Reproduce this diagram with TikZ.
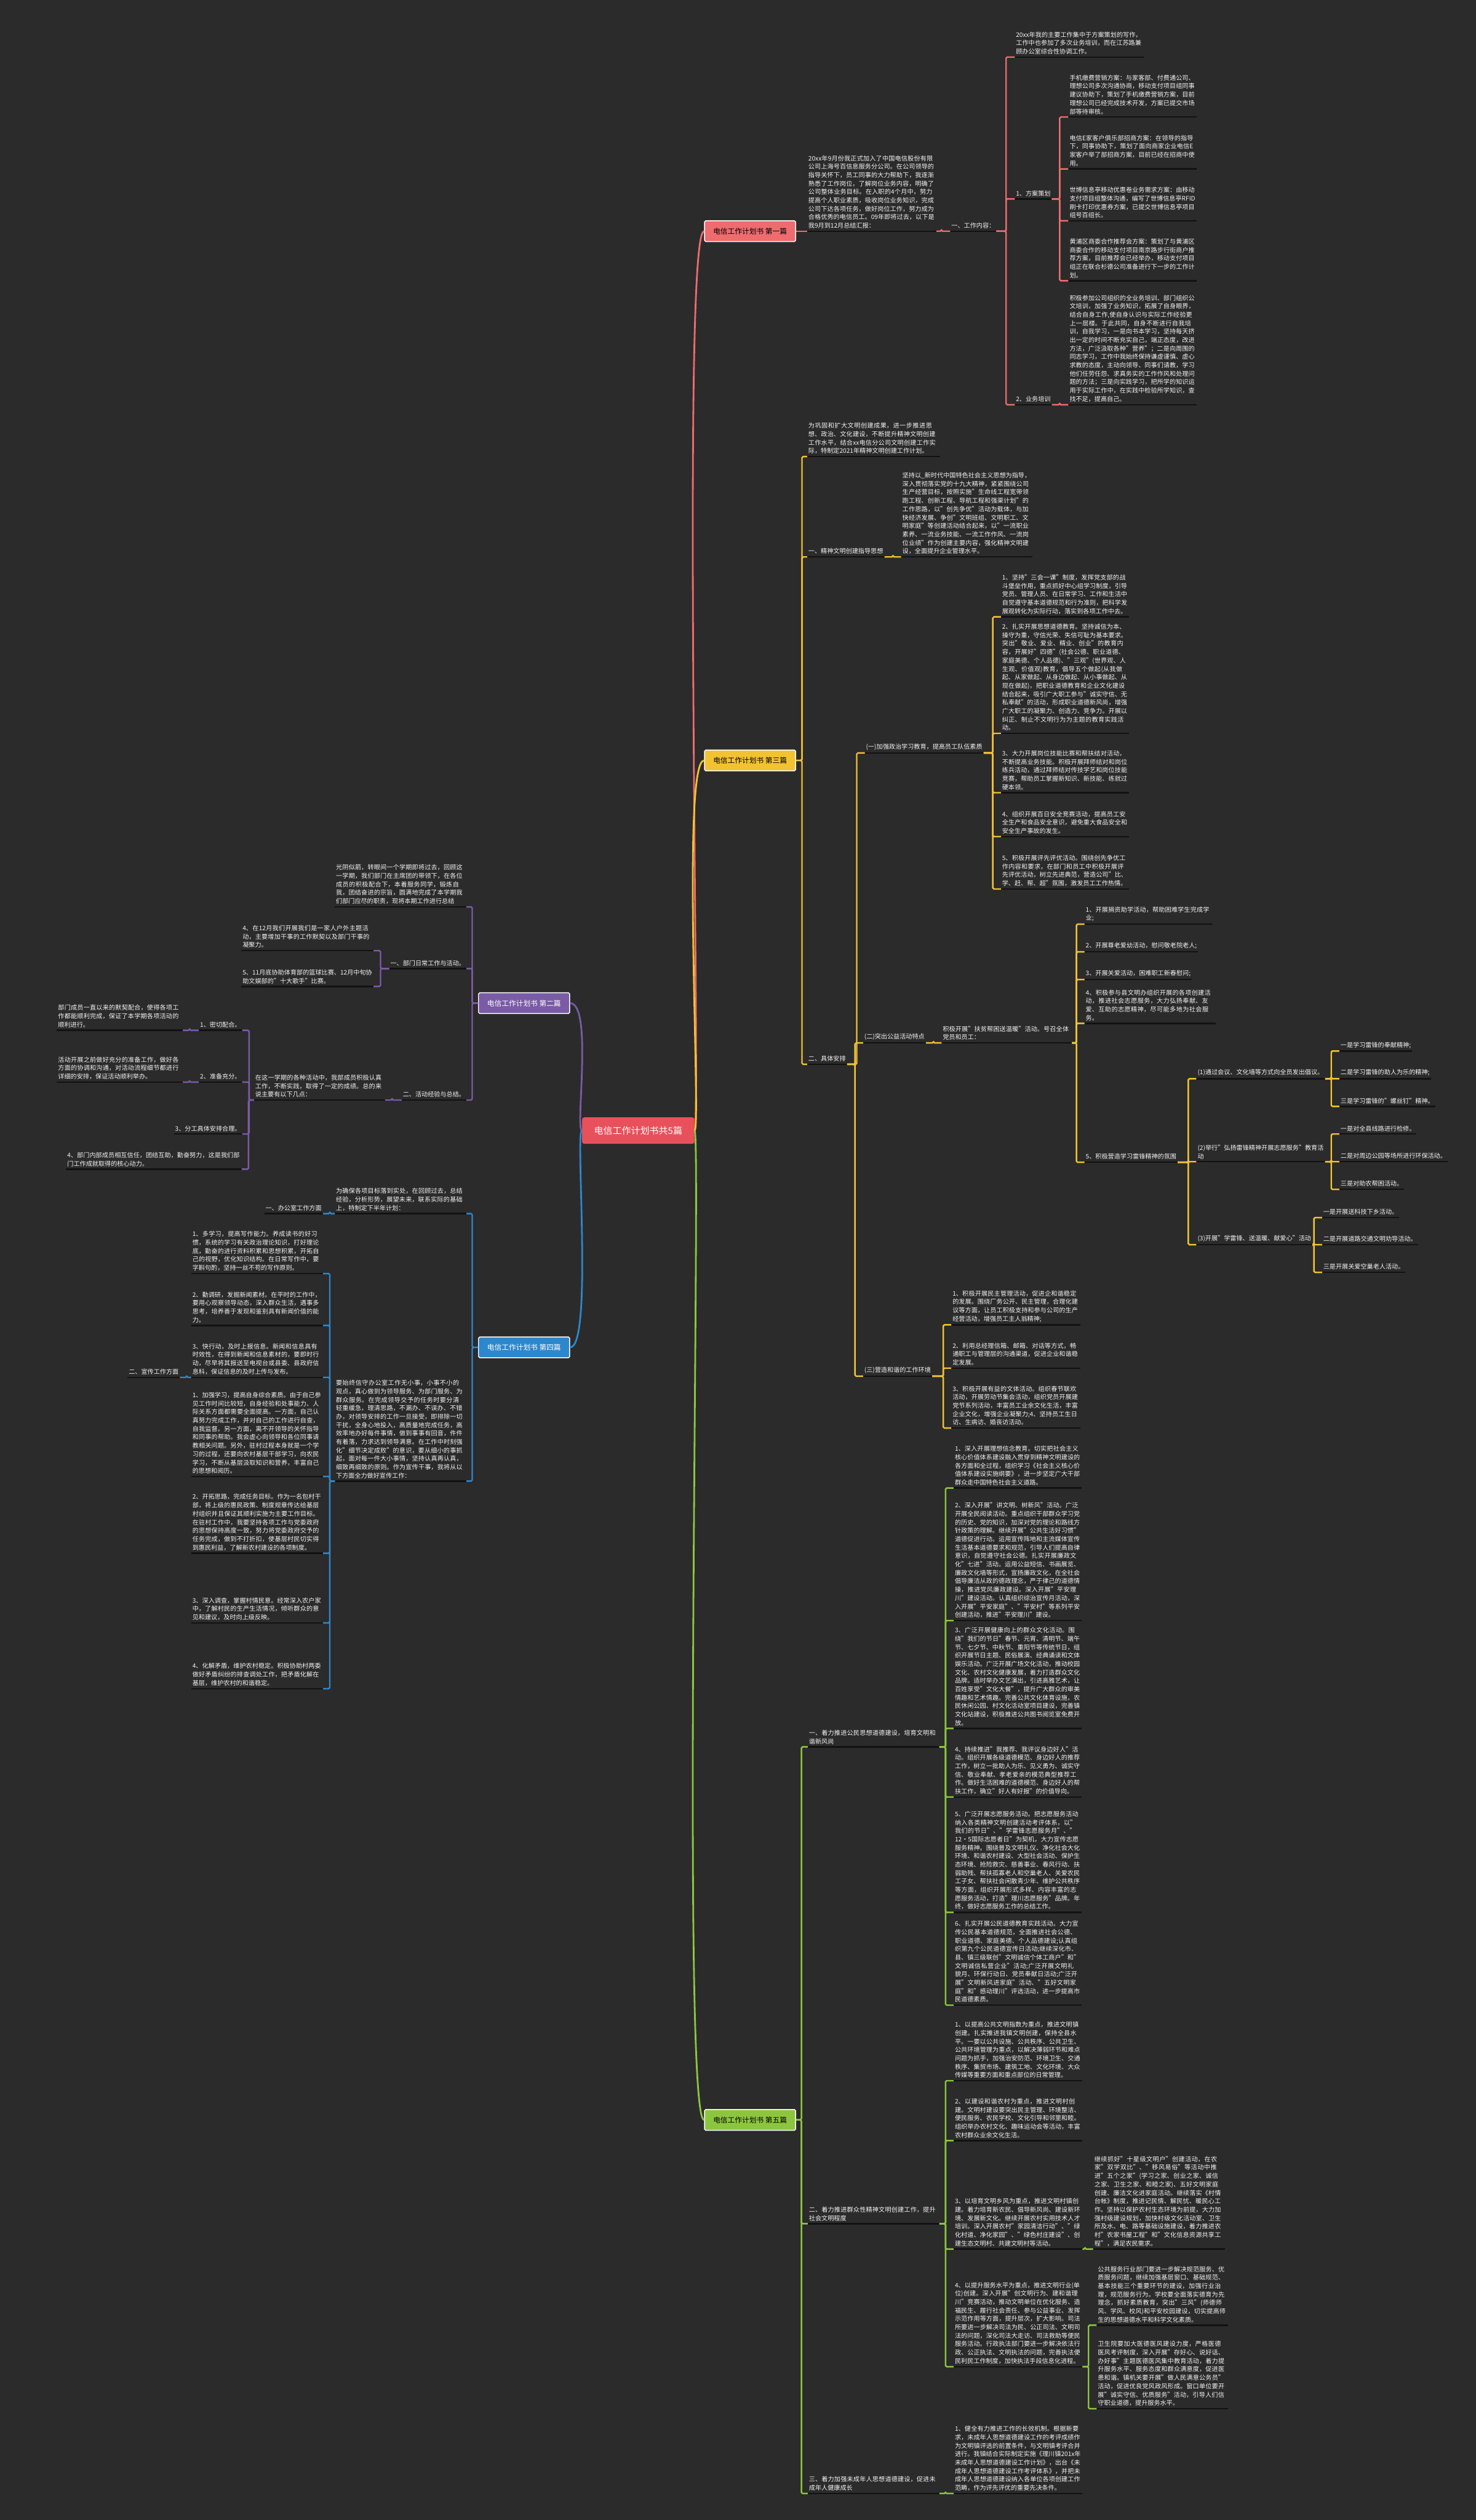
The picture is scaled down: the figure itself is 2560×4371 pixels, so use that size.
\documentclass[tikz,border=0pt]{standalone}
\usepackage{fontspec}
\setmainfont{Noto Sans CJK SC}
\XeTeXlinebreaklocale "zh"
\XeTeXlinebreakskip=0pt plus 1pt
\usetikzlibrary{calc}
\definecolor{Bg}{HTML}{2B2B2B}
\definecolor{Rule}{HTML}{121212}
\definecolor{Ink}{HTML}{F4F4F4}
\definecolor{Root}{HTML}{E8505B}
\definecolor{RedC}{HTML}{EE6B6E}
\definecolor{YelC}{HTML}{F2C230}
\definecolor{PurC}{HTML}{7A5BA6}
\definecolor{BluC}{HTML}{2D87CC}
\definecolor{GrnC}{HTML}{8CC63F}
\tikzset{
  root/.style={fill=Root,rounded corners=4pt,text=white,font=\fontsize{16}{19}\selectfont,minimum width=195pt,minimum height=46pt,inner sep=3pt},
  topic/.style={fill=#1,draw=white,line width=1.5pt,rounded corners=2pt,font=\fontsize{12.5}{15}\selectfont,minimum width=158pt,minimum height=36pt,inner sep=2pt},
  leaf/.style={anchor=south west,text=Ink,align=left,inner xsep=2pt,inner ysep=4.5pt,font=\fontsize{10.8}{14.6}\selectfont,text width=#1pt},
  leafl/.style={leaf=#1,anchor=south east},
  tag/.style={anchor=south west,text=Ink,inner xsep=2pt,inner ysep=4.5pt,font=\fontsize{10.8}{14.6}\selectfont},
  tagl/.style={tag,anchor=south east},
  link/.style={draw=#1,line width=2.6pt,rounded corners=2pt},
  uline/.style={draw=Rule,line width=2.6pt},
  curve/.style={draw=#1,line width=3pt}
}
\begin{document}
\begin{tikzpicture}[x=1pt,y=-1pt]
\useasboundingbox[fill=Bg] (0,0) rectangle (2560,4371);

% branches from the root
\node[root] (root) at (1107,1961) {电信工作计划书共5篇};
\node[topic=RedC,text=black] (b1) at (1301,401) {电信工作计划书 第一篇};
\node[topic=YelC,text=black] (b3) at (1301,1319) {电信工作计划书 第三篇};
\node[topic=GrnC,text=black] (b5) at (1301,3677) {电信工作计划书 第五篇};
\node[topic=PurC,text=white] (b2) at (909,1740) {电信工作计划书 第二篇};
\node[topic=BluC,text=white] (b4) at (909,2337) {电信工作计划书 第四篇};

% first
\node[leaf=220] (b1i) at (1400,401) {20xx年9月份我正式加入了中国电信股份有限公司上海号百信息服务分公司。在公司领导的指导关怀下，员工同事的大力帮助下，我逐渐熟悉了工作岗位，了解岗位业务内容，明确了公司整体业务目标。在入职的4个月中，努力提高个人职业素质，吸收岗位业务知识，完成公司下达各项任务，做好岗位工作，努力成为合格优秀的电信员工。09年即将过去，以下是我9月到12月总结汇报：};
\node[tag] (b1w) at (1648,401) {一、工作内容：};
\node[leaf=219] (b1a) at (1760,99) {20xx年我的主要工作集中于方案策划的写作，工作中也参加了多次业务培训，而在江苏路兼顾办公室综合性协调工作。};
\node[tag] (b1p) at (1760,345) {1、方案策划};
\node[leaf=218] (b1p1) at (1853,203) {手机缴费营销方案：与家客部、付费通公司、理想公司多次沟通协商，移动支付项目组同事建议协助下，策划了手机缴费营销方案，目前理想公司已经完成技术开发，方案已提交市场部等待审核。};
\node[leaf=218] (b1p2) at (1853,293) {电信E家客户俱乐部招商方案：在领导的指导下，同事协助下，策划了面向商家企业电信E家客户举了部招商方案，目前已经在招商中使用。};
\node[leaf=218] (b1p3) at (1853,383) {世博信息亭移动优惠卷业务需求方案：由移动支付项目组整体沟通，编写了世博信息亭RFID刷卡打印优惠券方案，已提交世博信息亭项目组号百组长。};
\node[leaf=218] (b1p4) at (1853,487) {黄浦区商委合作推荐会方案：策划了与黄浦区商委合作的移动支付项目南京路步行街商户推荐方案，目前推荐会已经举办，移动支付项目组正在联合杉德公司准备进行下一步的工作计划。};
\node[tag] (b1t) at (1760,702) {2、业务培训};
\node[leaf=218] (b1t1) at (1853,702) {积极参加公司组织的全业务培训、部门组织公文培训，加强了业务知识，拓展了自身眼界，结合自身工作,使自身认识与实际工作经验更上一层楼。于此共同，自身不断进行自我培训，自我学习，一是向书本学习，坚持每天挤出一定的时间不断充实自己，端正态度，改进方法，广泛汲取各种"营养"；二是向周围的同志学习，工作中我始终保持谦虚谨慎、虚心求教的态度，主动向领导、同事们请教，学习他们任劳任怨、求真务实的工作作风和处理问题的方法；三是向实践学习，把所学的知识运用于实际工作中，在实践中检验所学知识，查找不足，提高自己。};

% third
\node[leaf=226] (b3i) at (1400,792) {为巩固和扩大文明创建成果，进一步推进思想、政治、文化建设，不断提升精神文明创建工作水平，结合xx电信分公司文明创建工作实际，特制定2021年精神文明创建工作计划。};
\node[tag] (b3g1) at (1400,966) {一、精神文明创建指导思想};
\node[leaf=223] (b3g1a) at (1563,966) {坚持以\_新时代中国特色社会主义思想为指导，深入贯彻落实党的十九大精神，紧紧围绕公司生产经营目标，按照实施"生命线工程宽带领跑工程、创新工程、导航工程和强渠计划"的工作思路，以"创先争优"活动为载体，与加快经济发展、争创"文明班组、文明职工、文明家庭"等创建活动结合起来，以"一流职业素养、一流业务技能、一流工作作风、一流岗位业绩"作为创建主要内容，强化精神文明建设，全面提升企业管理水平。};
\node[tag] (b3g2) at (1400,1846) {二、具体安排};
\node[tag] (b3s1) at (1500,1306) {(一)加强政治学习教育，提高员工队伍素质};
\node[leaf=218] (b3s1a) at (1736,1070) {1、坚持"三会一课"制度，发挥党支部的战斗堡垒作用，重点抓好中心组学习制度，引导党员、管理人员、在日常学习、工作和生活中自觉遵守基本道德规范和行为准则，把科学发展观转化为实际行动，落实到各项工作中去。};
\node[leaf=218] (b3s1b) at (1736,1272) {2、扎实开展思想道德教育。坚持诚信为本、操守为重，守信光荣、失信可耻为基本要求。突出"敬业、爱业、精业、创业"的教育内容，开展好"四德"(社会公德、职业道德、家庭美德、个人品德)、"三观"(世界观、人生观、价值观)教育，倡导五个做起(从我做起、从家做起、从身边做起、从小事做起、从现在做起)，把职业道德教育和企业文化建设结合起来，吸引广大职工参与"诚实守信、无私奉献"的活动，形成职业道德新风尚，增强广大职工的凝聚力、创造力、竞争力。开展以纠正、制止不文明行为为主题的教育实践活动。};
\node[leaf=218] (b3s1c) at (1736,1375) {3、大力开展岗位技能比赛和帮扶结对活动，不断提高业务技能。积极开展拜师结对和岗位练兵活动，通过拜师结对传技学艺和岗位技能竞赛，帮助员工掌握新知识、新技能、练就过硬本领。};
\node[leaf=218] (b3s1d) at (1736,1451) {4、组织开展百日安全竞赛活动，提高员工安全生产和食品安全意识，避免重大食品安全和安全生产事故的发生。};
\node[leaf=218] (b3s1e) at (1736,1542) {5、积极开展评先评优活动。围绕创先争优工作内容和要求，在部门和员工中积极开展评先评优活动，树立先进典范，营造公司"比、学、赶、帮、超"氛围，激发员工工作热情。};
\node[tag] (b3s2) at (1497,1809) {(二)突出公益活动特点};
\node[leaf=222] (b3s2a) at (1633,1809) {积极开展"扶贫帮困送温暖"活动。号召全体党员和员工：};
\node[leaf=218] (b3t1) at (1881,1603) {1、开展捐资助学活动，帮助困难学生完成学业;};
\node[tag] (b3t2) at (1881,1651) {2、开展尊老爱幼活动，慰问敬老院老人;};
\node[tag] (b3t3) at (1881,1699) {3、开展关爱活动，困难职工新春慰问;};
\node[leaf=223] (b3t4) at (1881,1775) {4、积极参与县文明办组织开展的各项创建活动，推进社会志愿服务，大力弘扬奉献、友爱、互助的志愿精神，尽可能多地为社会服务。};
\node[tag] (b3t5) at (1881,2016) {5、积极营造学习雷锋精神的氛围};
\node[leaf=219] (b3u1) at (2075,1871) {(1)通过会议、文化墙等方式向全员发出倡议。};
\node[leaf=219] (b3u2) at (2075,2015) {(2)举行"弘扬雷锋精神开展志愿服务"教育活动};
\node[tag] (b3u3) at (2075,2159) {(3)开展"学雷锋、送温暖、献爱心"活动};
\node[tag] (b3v1) at (2323,1823) {一是学习雷锋的奉献精神;};
\node[tag] (b3v2) at (2323,1871) {二是学习雷锋的助人为乐的精神;};
\node[tag] (b3v3) at (2323,1919) {三是学习雷锋的"螺丝钉"精神。};
\node[tag] (b3w1) at (2323,1967) {一是对全县线路进行检修。};
\node[tag] (b3w2) at (2323,2015) {二是对周边公园等场所进行环保活动。};
\node[tag] (b3w3) at (2323,2063) {三是对助农帮困活动。};
\node[tag] (b3x1) at (2293,2112) {一是开展送科技下乡活动。};
\node[tag] (b3x2) at (2293,2159) {二是开展道路交通文明劝导活动。};
\node[tag] (b3x3) at (2293,2207) {三是开展关爱空巢老人活动。};
\node[tag] (b3s3) at (1497,2387) {(三)营造和谐的工作环境};
\node[leaf=219] (b3y1) at (1650,2298) {1、积极开展民主管理活动，促进企和谐稳定的发展。围绕厂务公开、民主管理，合理化建议等方面，让员工积极支持和参与公司的生产经营活动，增强员工主人翁精神;};
\node[leaf=219] (b3y2) at (1650,2373) {2、利用总经理信箱、邮箱、对话等方式，畅通职工与管理层的沟通渠道，促进企业和谐稳定发展。};
\node[leaf=219] (b3y3) at (1650,2477) {3、积极开展有益的文体活动。组织春节联欢活动，开展劳动节集会活动，组织党员开展建党节系列活动，丰富员工业余文化生活，丰富企业文化，增强企业凝聚力;4、坚持员工生日访、生病访、婚丧访活动。};

% fifth
\node[leaf=224] (b5g1) at (1401,3030) {一、着力推进公民思想道德建设，培育文明和谐新风尚};
\node[leaf=218] (b5a1) at (1654,2581) {1、深入开展理想信念教育。切实把社会主义核心价值体系建设融入贯穿到精神文明建设的各方面和全过程，组织学习《社会主义核心价值体系建设实施纲要》，进一步坚定广大干部群众走中国特色社会主义道路。};
\node[leaf=218] (b5a2) at (1654,2811) {2、深入开展"讲文明、树新风"活动。广泛开展全民阅读活动。重点组织干部群众学习党的历史、党的知识，加深对党的理论和路线方针政策的理解。继续开展"公共生活好习惯"道德促进行动。运用宣传阵地和主流媒体宣传生活基本道德要求和规范，引导人们提高自律意识，自觉遵守社会公德。扎实开展廉政文化"七进"活动。运用公益短信、书画展览、廉政文化墙等形式，宣扬廉政文化，在全社会倡导廉洁从政的德政理念，严于律己的道德情操，推进党风廉政建设。深入开展"平安理川"建设活动。认真组织综治宣传月活动，深入开展"平安家庭"、"平安村"等系列平安创建活动，推进"平安理川"建设。};
\node[leaf=218] (b5a3) at (1654,2998) {3、广泛开展健康向上的群众文化活动。围绕"我们的节日"春节、元宵、清明节、端午节、七夕节、中秋节、重阳节等传统节日，组织开展节日主题、民俗展演、经典诵读和文体娱乐活动。广泛开展广场文化活动，推动校园文化、农村文化健康发展，着力打造群众文化品牌。适时举办文艺演出，引进高雅艺术，让百姓享受"文化大餐"，提升广大群众的审美情趣和艺术情趣。完善公共文化体育设施，农民休闲公园、村文化活动室项目建设，完善镇文化站建设，积极推进公共图书阅览室免费开放。};
\node[leaf=218] (b5a4) at (1654,3117) {4、持续推进"我推荐、我评议身边好人"活动。组织开展各级道德模范、身边好人的推荐工作，树立一批助人为乐、见义勇为、诚实守信、敬业奉献、孝老爱亲的模范典型推荐工作。做好生活困难的道德模范、身边好人的帮扶工作，确立"好人有好报"的价值导向。};
\node[leaf=218] (b5a5) at (1654,3317) {5、广泛开展志愿服务活动。把志愿服务活动纳入各类精神文明创建活动考评体系，以"我们的节日"、"学雷锋志愿服务月"、"12·5国际志愿者日"为契机，大力宣传志愿服务精神。围绕普及文明礼仪、净化社会大化环境、和谐农村建设、大型社会活动、保护生态环境、抢险救灾、慈善事业、春风行动、扶弱助残、帮扶孤寡老人和空巢老人、关爱农民工子女、帮扶社会闲散青少年、维护公共秩序等方面，组织开展形式多样、内容丰富的志愿服务活动，打造"理川志愿服务"品牌。年终，做好志愿服务工作的总结工作。};
\node[leaf=218] (b5a6) at (1654,3478) {6、扎实开展公民道德教育实践活动。大力宣传公民基本道德规范，全面推进社会公德、职业道德、家庭美德、个人品德建设;认真组织第九个公民道德宣传日活动;继续深化市、县、镇三级联创"文明诚信个体工商户"和"文明诚信私营企业"活动;广泛开展文明礼貌月、环保行动日、党员奉献日活动;广泛开展"文明新风进家庭"活动、"五好文明家庭"和"感动理川"评选活动，进一步提高市民道德素质。};
\node[leaf=224] (b5g2) at (1401,3857) {二、着力推进群众性精神文明创建工作，提升社会文明程度};
\node[leaf=219] (b5b1) at (1654,3609) {1、以提高公共文明指数为重点，推进文明镇创建。扎实推进我镇文明创建，保持全县水平。一要以公共设施、公共秩序、公共卫生、公共环境管理为重点，以解决薄弱环节和难点问题为抓手，加强治安防范、环境卫生、交通秩序、集贸市场、建筑工地、文化环境、大众传媒等重要方面和重点部位的日常管理。};
\node[leaf=219] (b5b2) at (1654,3713) {2、以建设和谐农村为重点，推进文明村创建。文明村建设要突出民主管理、环境整洁、便民服务、农民学校、文化引导和邻里和睦。组织举办农村文化、趣味运动会等活动，丰富农村群众业余文化生活。};
\node[leaf=219] (b5b3) at (1654,3901) {3、以培育文明乡风为重点，推进文明村镇创建。着力培育新农民、倡导新风尚、建设新环境、发展新文化。继续开展农村实用技术人才培训。深入开展农村"家园清洁行动"、"绿化村道、净化家园"、"绿色村庄建设"、创建生态文明村、共建文明村等活动。};
\node[leaf=224] (b5b3a) at (1896,3901) {继续抓好"十星级文明户"创建活动，在农家"双学双比"、"移风易俗"等活动中推进"五个之家"(学习之家、创业之家、诚信之家、卫生之家、和睦之家)、五好文明家庭创建、廉洁文化进家庭活动。继续落实《村情台帐》制度，推进记民情、解民忧、暖民心工作。坚持以保护农村生态环境为前提，大力加强村级建设规划，加快村级文化活动室、卫生所及水、电、路等基础设施建设，着力推进农村"农家书屋工程"和"文化信息资源共享工程"，满足农民需求。};
\node[leaf=219] (b5b4) at (1654,4105) {4、以提升服务水平为重点，推进文明行业(单位)创建。深入开展"创文明行为、建和谐理川"竞赛活动，推动文明单位在优化服务、造福民生、履行社会责任、参与公益事业、发挥示范作用等方面，提升层次，扩大影响。司法所要进一步解决司法为民、公正司法、文明司法的问题，深化司法大走访、司法救助等便民服务活动。行政执法部门要进一步解决依法行政、公正执法、文明执法的问题，完善执法便民利民工作制度，加快执法手段信息化进程。};
\node[leaf=224] (b5b4a) at (1902,4033) {公共服务行业部门要进一步解决规范服务、优质服务问题，继续加强基层窗口、基础规范、基本技能三个重要环节的建设，加强行业治理，规范服务行为。学校要全面落实德育为先理念，抓好素质教育，突出"三风"(师德师风、学风、校风)和平安校园建设，切实提高师生的思想道德水平和科学文化素质。};
\node[leaf=224] (b5b4b) at (1902,4178) {卫生院要加大医德医风建设力度，严格医德医风考评制度，深入开展"存好心、说好话、办好事"主题医德医风集中教育活动，着力提升服务水平、服务态度和群众满意度，促进医患和谐。镇机关要开展"做人民满意公务员"活动，促进优良党风政风形成。窗口单位要开展"诚实守信、优质服务"活动，引导人们信守职业道德，提升服务水平。};
\node[leaf=224] (b5g3) at (1401,4325) {三、着力加强未成年人思想道德建设，促进未成年人健康成长};
\node[leaf=219] (b5c1) at (1654,4325) {1、健全有力推进工作的长效机制。根据新要求，未成年人思想道德建设工作的考评成绩作为文明镇评选的前置条件，与文明镇考评合并进行。我镇结合实际制定实施《理川镇201x年未成年人思想道德建设工作计划》，出台《未成年人思想道德建设工作考评体系》，并把未成年人思想道德建设纳入各单位各项创建工作范畴，作为评先评优的重要先决条件。};

% second
\node[leafl=224] (b2i) at (809,1573) {光阴似箭，转眼间一个学期即将过去，回顾这一学期，我们部门在主席团的带领下，在各位成员的积极配合下，本着服务同学，锻炼自我，团结奋进的宗旨，圆满地完成了本学期我们部门应尽的职责，现将本期工作进行总结};
\node[tagl] (b2g1) at (809,1680) {一、部门日常工作与活动。};
\node[leafl=225] (b2g1a) at (648,1649) {4、在12月我们开展我们是一家人户外主题活动，主要增加干事的工作默契以及部门干事的凝聚力。};
\node[leafl=225] (b2g1b) at (648,1711) {5、11月底协助体育部的篮球比赛、12月中旬协助文娱部的"十大歌手"比赛。};
\node[tagl] (b2g2) at (809,1908) {二、活动经验与总结。};
\node[leafl=223] (b2g2a) at (668,1908) {在这一学期的各种活动中，我部成员积极认真工作，不断实践，取得了一定的成绩。总的来说主要有以下几点：};
\node[tagl] (b2k1) at (420,1787) {1、密切配合。};
\node[tagl] (b2k2) at (420,1877) {2、准备充分。};
\node[tagl] (b2k3) at (420,1967) {3、分工具体安排合理。};
\node[leafl=300] (b2k4) at (419,2028) {4、部门内部成员相互信任，团结互助，勤奋努力，这是我们部门工作成就取得的核心动力。};
\node[leafl=214] (b2k1a) at (317,1787) {部门成员一直以来的默契配合，使得各项工作都能顺利完成，保证了本学期各项活动的顺利进行。};
\node[leafl=214] (b2k2a) at (317,1877) {活动开展之前做好充分的准备工作，做好各方面的协调和沟通，对活动流程细节都进行详细的安排，保证活动顺利举办。};

% fourth
\node[leafl=224] (b4a) at (809,2105) {为确保各项目标落到实处，在回顾过去，总结经验，分析形势，展望未来，联系实际的基础上，特制定下半年计划：};
\node[tagl] (b4a1) at (560,2105) {一、办公室工作方面};
\node[leafl=224] (b4b) at (809,2569) {要始终信守办公室工作无小事，小事不小的观点，真心做到为领导服务、为部门服务、为群众服务。在完成领导交予的任务时要分清轻重缓急，理清思路，不漏办、不误办、不错办，对领导安排的工作一旦接受，即排除一切干扰，全身心地投入，高质量地完成任务，高效率地办好每件事情，做到事事有回音，件件有着落，力求达到领导满意。在工作中时刻强化"细节决定成败"的意识，要从细小的事抓起，面对每一件大小事情，坚持认真再认真，细致再细致的原则。作为宣传干事，我将从以下方面全力做好宣传工作：};
\node[leafl=224] (b4c1) at (560,2209) {1、多学习，提高写作能力。养成读书的好习惯，系统的学习有关政治理论知识，打好理论底，勤奋的进行资料积累和思想积累，开拓自己的视野，优化知识结构。在日常写作中，要字斟句酌，坚持一丝不苟的写作原则。};
\node[leafl=224] (b4c2) at (560,2299) {2、勤调研，发掘新闻素材。在平时的工作中，要用心观察领导动态，深入群众生活，遇事多思考，培养善于发现和鉴别具有新闻价值的能力。};
\node[leafl=224] (b4c3) at (560,2389) {3、快行动，及时上报信息。新闻和信息具有时效性，在得到新闻和信息素材的，要即时行动，尽早将其报送至电视台或县委、县政府信息科，保证信息的及时上传与发布。};
\node[tagl] (b4c3a) at (312,2389) {二、宣传工作方面};
\node[leafl=224] (b4c4) at (560,2561) {1、加强学习，提高自身综合素质。由于自己参见工作时间比较短，自身经验和处事能力、人际关系方面都需要全面提高。一方面，自己认真努力完成工作，并对自己的工作进行自查，自我监督。另一方面，离不开领导的关怀指导和同事的帮助。我会虚心向领导和各位同事请教相关问题。另外，驻村过程本身就是一个学习的过程，还要向农村基层干部学习，向农民学习，不断从基层汲取知识和营养，丰富自己的思想和阅历。};
\node[leafl=224] (b4c5) at (560,2694) {2、开拓思路，完成任务目标。作为一名包村干部，将上级的惠民政策、制度规章传达给基层村组织并且保证其顺利实施为主要工作目标。在驻村工作中，我要坚持各项工作与党委政府的思想保持高度一致，努力将党委政府交予的任务完成，做到不打折扣，使基层村民切实得到惠民利益，了解新农村建设的各项制度。};
\node[leafl=224] (b4c6) at (560,2815) {3、深入调查，掌握村情民意。经常深入农户家中，了解村民的生产生活情况，倾听群众的意见和建议，及时向上级反映。};
\node[leafl=224] (b4c7) at (560,2929) {4、化解矛盾，维护农村稳定。积极协助村两委做好矛盾纠纷的排查调处工作，把矛盾化解在基层，维护农村的和谐稳定。};

% underlines
\foreach \n in {b1i,b1w,b1a,b1p,b1p1,b1p2,b1p3,b1p4,b1t,b1t1,
  b3i,b3g1,b3g1a,b3g2,b3s1,b3s1a,b3s1b,b3s1c,b3s1d,b3s1e,b3s2,b3s2a,b3t1,b3t2,b3t3,b3t4,b3t5,
  b3u1,b3u2,b3u3,b3v1,b3v2,b3v3,b3w1,b3w2,b3w3,b3x1,b3x2,b3x3,b3s3,b3y1,b3y2,b3y3,
  b5g1,b5a1,b5a2,b5a3,b5a4,b5a5,b5a6,b5g2,b5b1,b5b2,b5b3,b5b3a,b5b4,b5b4a,b5b4b,b5g3,b5c1,
  b2i,b2g1,b2g1a,b2g1b,b2g2,b2g2a,b2k1,b2k2,b2k3,b2k4,b2k1a,b2k2a,
  b4a,b4a1,b4b,b4c1,b4c2,b4c3,b4c3a,b4c4,b4c5,b4c6,b4c7}
  \draw[uline] (\n.south west) -- (\n.south east);

% connectors, right side
\foreach \c in {b1i} \draw[link=RedC] (b1.east) -- (\c.south west);
\foreach \p/\c in {b1i/b1w,b1w/b1a,b1w/b1p,b1w/b1t,b1p/b1p1,b1p/b1p2,b1p/b1p3,b1p/b1p4,b1t/b1t1}
  \draw[link=RedC] (\p.south east) -| ([xshift=-15pt]\c.south west) -- (\c.south west);
\foreach \c in {b3i,b3g1,b3g2} \draw[link=YelC] (b3.east) -| ([xshift=-9pt]\c.south west) -- (\c.south west);
\foreach \p/\c in {b3g1/b3g1a,b3g2/b3s1,b3g2/b3s2,b3g2/b3s3,
  b3s1/b3s1a,b3s1/b3s1b,b3s1/b3s1c,b3s1/b3s1d,b3s1/b3s1e,b3s2/b3s2a,
  b3s2a/b3t1,b3s2a/b3t2,b3s2a/b3t3,b3s2a/b3t4,b3s2a/b3t5,b3t5/b3u1,b3t5/b3u2,b3t5/b3u3,
  b3u1/b3v1,b3u1/b3v2,b3u1/b3v3,b3u2/b3w1,b3u2/b3w2,b3u2/b3w3,b3u3/b3x1,b3u3/b3x2,b3u3/b3x3,
  b3s3/b3y1,b3s3/b3y2,b3s3/b3y3}
  \draw[link=YelC] (\p.south east) -| ([xshift=-14pt]\c.south west) -- (\c.south west);
\foreach \c in {b5g1,b5g2,b5g3} \draw[link=GrnC] (b5.east) -| ([xshift=-11pt]\c.south west) -- (\c.south west);
\foreach \p/\c in {b5g1/b5a1,b5g1/b5a2,b5g1/b5a3,b5g1/b5a4,b5g1/b5a5,b5g1/b5a6,
  b5g2/b5b1,b5g2/b5b2,b5g2/b5b3,b5g2/b5b4,b5b3/b5b3a,b5b4/b5b4a,b5b4/b5b4b,b5g3/b5c1}
  \draw[link=GrnC] (\p.south east) -| ([xshift=-14pt]\c.south west) -- (\c.south west);

% connectors, left side
\foreach \c in {b2i,b2g1,b2g2} \draw[link=PurC] (b2.west) -| ([xshift=10pt]\c.south east) -- (\c.south east);
\foreach \p/\c in {b2g1/b2g1a,b2g1/b2g1b,b2g2/b2g2a,b2g2a/b2k1,b2g2a/b2k2,b2g2a/b2k3,b2g2a/b2k4,b2k1/b2k1a,b2k2/b2k2a}
  \draw[link=PurC] (\p.south west) -| ([xshift=12pt]\c.south east) -- (\c.south east);
\foreach \c in {b4a,b4b} \draw[link=BluC] (b4.west) -| ([xshift=10pt]\c.south east) -- (\c.south east);
\foreach \p/\c in {b4a/b4a1,b4b/b4c1,b4b/b4c2,b4b/b4c3,b4b/b4c4,b4b/b4c5,b4b/b4c6,b4b/b4c7,b4c3/b4c3a}
  \draw[link=BluC] (\p.south west) -| ([xshift=12pt]\c.south east) -- (\c.south east);

% root curves
\draw[curve=RedC] (root.east) .. controls +(12,0) and +(-40,0) .. (b1.west);
\draw[curve=YelC] (root.east) .. controls +(12,0) and +(-40,0) .. (b3.west);
\draw[curve=GrnC] (root.east) .. controls +(12,0) and +(-40,0) .. (b5.west);
\draw[curve=PurC] (root.west) .. controls +(-12,0) and +(40,0) .. (b2.east);
\draw[curve=BluC] (root.west) .. controls +(-12,0) and +(40,0) .. (b4.east);
\end{tikzpicture}
\end{document}
